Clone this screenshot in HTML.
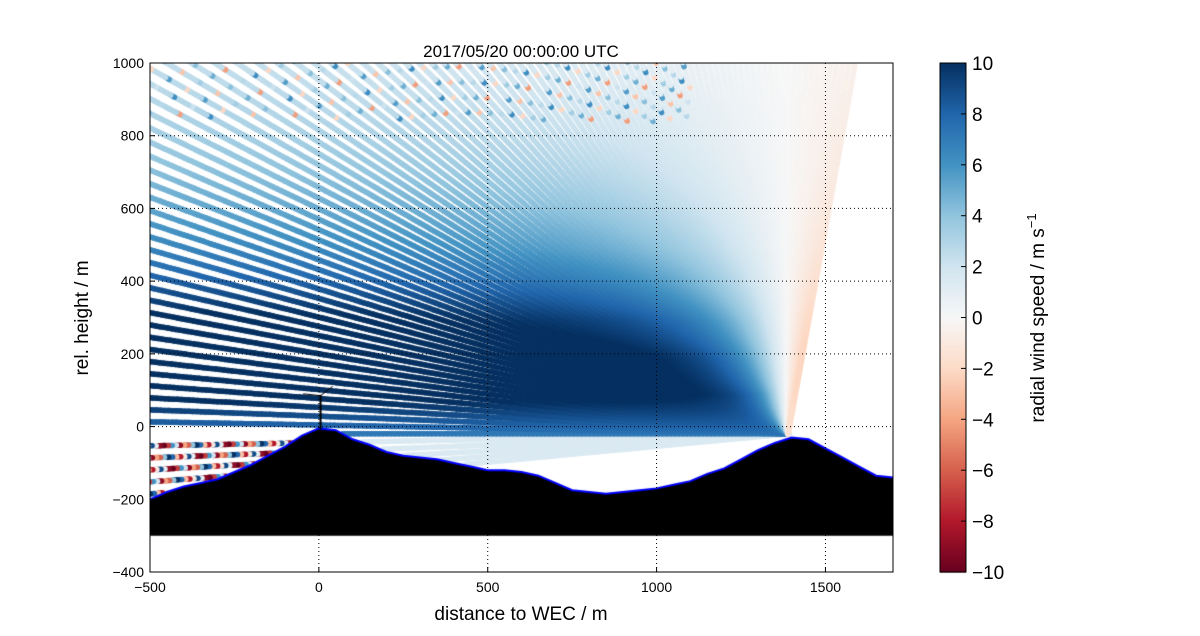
<!DOCTYPE html>
<html><head><meta charset="utf-8"><style>
html,body{margin:0;padding:0;background:#fff;width:1200px;height:636px;overflow:hidden}
#wrap{position:relative;width:1200px;height:636px}
canvas,svg{position:absolute;left:0;top:0}
text{font-family:"Liberation Sans",sans-serif;fill:#000}
</style></head><body>
<div id="wrap">
<canvas id="cv" width="1200" height="636"></canvas>
<svg id="sv" width="1200" height="636"></svg>
</div>
<script>
// ---- data ----
const terrainX = [-500,-450,-400,-350,-300,-250,-200,-150,-100,-50,0,50,100,150,200,250,300,350,400,450,500,550,600,650,700,750,800,850,900,950,1000,1050,1100,1150,1200,1250,1300,1350,1400,1450,1500,1550,1600,1650,1700];
const terrainY = [-200,-180,-165,-155,-145,-125,-105,-80,-55,-25,-5,-10,-35,-50,-70,-80,-85,-90,-100,-110,-120,-120,-125,-135,-155,-175,-180,-185,-180,-175,-170,-160,-150,-130,-115,-90,-65,-45,-30,-35,-60,-85,-110,-135,-140];
const profileH = [-100,0,100,200,300,400,500,600,700,800,900,1000,1100];
const profileU = [4,8,11,11.5,10.5,8.5,6.8,5.6,4.6,3.8,3.2,2.8,2.5];
const xTicks = [-500,0,500,1000,1500];
const yTicks = [-400,-200,0,200,400,600,800,1000];
const cbTicks = [-10,-8,-6,-4,-2,0,2,4,6,8,10];
const cmapV = [-10,-8,-6,-4,-2,0,2,4,6,8,10];
const cmapC = ['#67001f','#b2182b','#d6604d','#f4a582','#fddbc7','#f7f7f7','#d1e5f0','#92c5de','#4393c3','#2166ac','#053061'];
const noiseVals = [-9,4,-3,9,-10,2,-6,8,-1,-9,6,-4,10,-8,1,-7];
const topNoise = [6,-4,8,3,-6,7,5,-3,9,4];
const scanOrigin = [1390,-20];

// ---- axes ----
const X0=150,X1=893,Y0=63,Y1=572;
const xs = v => X0 + (v+500)/2200*(X1-X0);
const ys = v => Y0 + (1000-v)/1400*(Y1-Y0);
function hex(c){return [parseInt(c.slice(1,3),16),parseInt(c.slice(3,5),16),parseInt(c.slice(5,7),16)];}
function cmap(v){
  v=Math.max(-10,Math.min(10,v));
  let i=0; while(i<cmapV.length-2 && v>cmapV[i+1]) i++;
  const t=(v-cmapV[i])/(cmapV[i+1]-cmapV[i]);
  const a=hex(cmapC[i]),b=hex(cmapC[i+1]);
  return 'rgb('+a.map((x,k)=>Math.round(x+(b[k]-x)*t)).join(',')+')';
}
function interp(xa,ya,x){
  if(x<=xa[0]) return ya[0]; if(x>=xa[xa.length-1]) return ya[ya.length-1];
  let i=0; while(x>xa[i+1]) i++;
  return ya[i]+(ya[i+1]-ya[i])*(x-xa[i])/(xa[i+1]-xa[i]);
}
const terr = x => interp(terrainX,terrainY,x);

const cv=document.getElementById('cv'),ctx=cv.getContext('2d');
ctx.save();
ctx.beginPath();ctx.rect(X0,Y0,X1-X0,Y1-Y0);ctx.clip();
ctx.lineCap='round';
for(let a=-5;a<=101;a+=1){
  const th=a*Math.PI/180;
  const dx=-Math.cos(th), dy=Math.sin(th);
  const sign = dx<0?1:-1;
  const cosE=Math.abs(Math.cos(th));
  let prev=[scanOrigin[0],scanOrigin[1]];
  ctx.lineWidth = 5.5;
  let k=0;
  for(let r=12;r<2600;r+=12){
    k++;
    const x=scanOrigin[0]+dx*r, y=scanOrigin[1]+dy*r;
    if(y<terr(x)-2 && a>=0) break;
    if(x<-520||y>1030||x>1720) break;
    let v = sign*interp(profileH,profileU,y)*cosE;
    if(y<-30 && x<0){ v = noiseVals[(k*5+a*3)%noiseVals.length]; }
    else if(a<0 && x>=0){ v = 1.5; }
    else if(y>850 && x<1100 && ((a*7+k)%5===0)) v = topNoise[(a*3+k*7)%topNoise.length]*0.7;
    if(a<0 && y<terr(x)) { prev=[x,y]; continue; }
    ctx.strokeStyle=cmap(v);
    ctx.beginPath();ctx.moveTo(xs(prev[0]),ys(prev[1]));ctx.lineTo(xs(x),ys(y));ctx.stroke();
    prev=[x,y];
  }
}
// terrain
ctx.beginPath();
ctx.moveTo(xs(terrainX[0]),ys(-300));
terrainX.forEach((x,i)=>ctx.lineTo(xs(x),ys(terrainY[i])));
ctx.lineTo(xs(1700),ys(-300));ctx.closePath();
ctx.fillStyle='#000';ctx.fill();
ctx.beginPath();
terrainX.forEach((x,i)=>i?ctx.lineTo(xs(x),ys(terrainY[i])):ctx.moveTo(xs(x),ys(terrainY[i])));
ctx.strokeStyle='#0000ff';ctx.lineWidth=2;ctx.stroke();
ctx.fillStyle='#fff';ctx.fillRect(X0,ys(-300)+1,X1-X0,Y1-ys(-300));
// turbine
ctx.strokeStyle='#000';ctx.lineWidth=2;
ctx.beginPath();ctx.moveTo(xs(5),ys(-5));ctx.lineTo(xs(5),ys(85));ctx.stroke();
ctx.lineWidth=1;ctx.beginPath();ctx.moveTo(xs(5),ys(85));ctx.lineTo(xs(40),ys(110));
ctx.moveTo(xs(5),ys(85));ctx.lineTo(xs(-45),ys(90));ctx.stroke();
ctx.restore();

// colorbar gradient
const CB0=940,CB1=966;
for(let py=Y0;py<Y1;py++){
  const v=10-(py-Y0)/(Y1-Y0)*20;
  ctx.fillStyle=cmap(v);ctx.fillRect(CB0,py,CB1-CB0,1.5);
}

// ---- svg overlay ----
const sv=document.getElementById('sv');const NS='http://www.w3.org/2000/svg';
function el(tag,attrs,txt){const e=document.createElementNS(NS,tag);for(const k in attrs)e.setAttribute(k,attrs[k]);if(txt!=null)e.textContent=txt;sv.appendChild(e);return e;}
xTicks.forEach(t=>{
  if(t>-500){const g=el('line',{x1:xs(t),x2:xs(t),y1:Y0,y2:Y1,stroke:'#000','stroke-width':1,'stroke-dasharray':'1,3'});
  
  }
  const tk=el('line',{x1:xs(t),x2:xs(t),y1:Y1,y2:Y1-5,stroke:'#000'});
  
  
  const lb=el('text',{x:xs(t),y:Y1+20,'font-size':14,'text-anchor':'middle'},t===-500?'\u2212500':String(t));
  
  
});
yTicks.forEach(t=>{
  if(t>-400&&t<1000){const g=el('line',{x1:X0,x2:X1,y1:ys(t),y2:ys(t),stroke:'#000','stroke-width':1,'stroke-dasharray':'1,3'});
  
  }
  const tk=el('line',{x1:X0,x2:X0+5,y1:ys(t),y2:ys(t),stroke:'#000'});
  
  
  const lb=el('text',{x:X0-6,y:ys(t)+5,'font-size':14,'text-anchor':'end'},t<0?'\u2212'+(-t):String(t));
  
  
});
const fr=el('rect',{x:X0,y:Y0,width:X1-X0,height:Y1-Y0,fill:'none',stroke:'#000','stroke-width':1});


const cbf=el('rect',{x:CB0,y:Y0,width:CB1-CB0,height:Y1-Y0,fill:'none',stroke:'#000'});


cbTicks.forEach(t=>{
  const y=Y0+(10-t)/20*(Y1-Y0);
  const tk=el('line',{x1:CB1-5,x2:CB1,y1:y,y2:y,stroke:'#000'});
  
  
  const lb=el('text',{x:972,y:y+7,'font-size':19},t<0?'\u2212'+(-t):String(t));
  
  
});
</script>
<svg width="1200" height="636" style="position:absolute;left:0;top:0;pointer-events:none">
<text x="521" y="57" font-size="17" text-anchor="middle">2017/05/20 00:00:00 UTC</text>
<text x="521" y="620" font-size="19" text-anchor="middle">distance to WEC / m</text>
<text transform="translate(88,318) rotate(-90)" font-size="19" text-anchor="middle">rel. height / m</text>
<text transform="translate(1044,318) rotate(-90)" font-size="19" text-anchor="middle">radial wind speed / m s<tspan font-size="13" dy="-8">−1</tspan></text>
</svg>
</body></html>
